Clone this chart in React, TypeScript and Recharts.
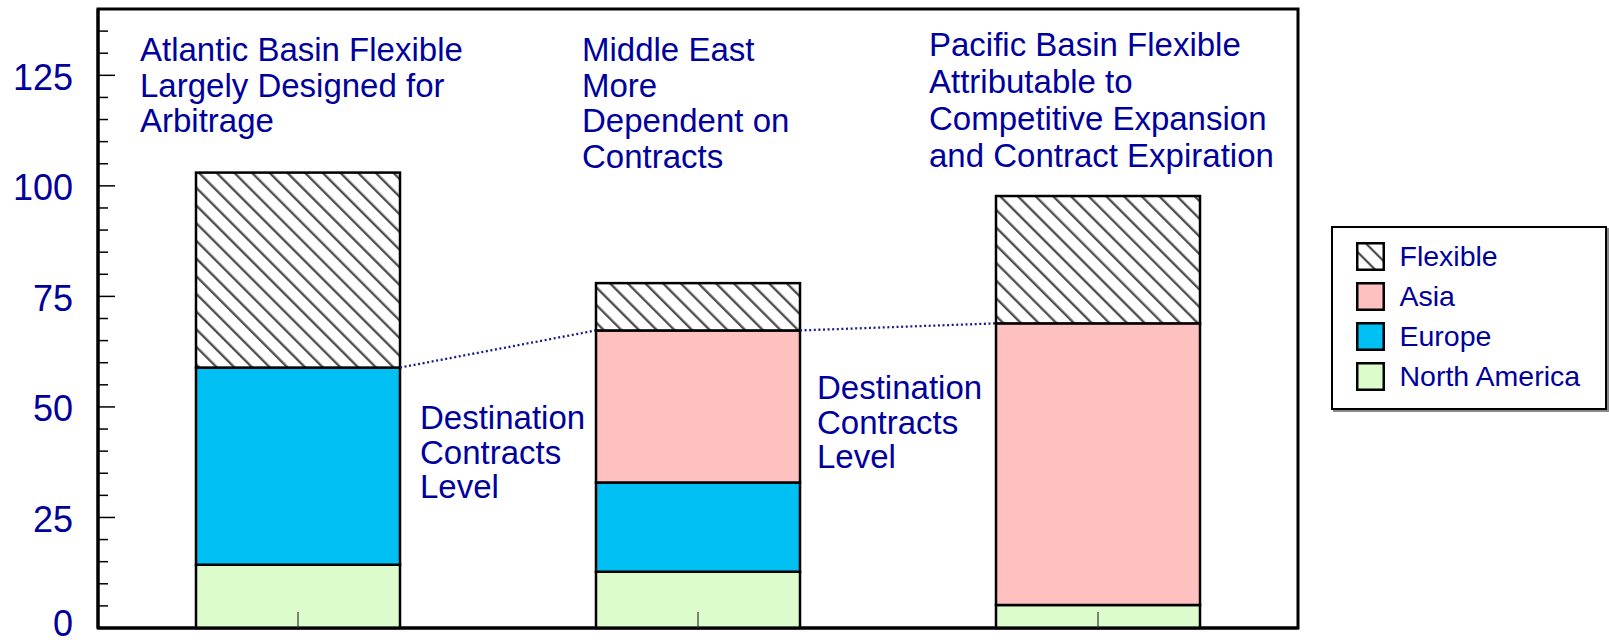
import React from 'react'
import { ComposedChart, Bar, XAxis, YAxis, Legend, ReferenceArea } from 'recharts'

// regions (one bar each)
const categories = ['Atlantic Basin', 'Middle East', 'Pacific Basin']

// stacked segments, bottom to top
const northAmerica = [14.3, 12.7, 5.2]
const europe = [44.6, 20.2, 0]
const asia = [0, 34.4, 63.7]
const flexible = [44.1, 10.7, 28.8]

const yTicks = [0, 25, 50, 75, 100, 125]
const tickMarks = [0, 5, 10, 15, 20, 25, 30, 35, 40, 45, 50, 55, 60, 65, 70, 75, 80, 85, 90, 95, 100, 105, 110, 115, 120, 125, 130, 135]
const legendOrder = ['Flexible', 'Asia', 'Europe', 'North America']

const notes = [
  { x: 140, y: 61, step: 35.5, lines: ['Atlantic Basin Flexible', 'Largely Designed for', 'Arbitrage'] },
  { x: 582, y: 61, step: 35.5, lines: ['Middle East', 'More', 'Dependent on', 'Contracts'] },
  { x: 929, y: 56, step: 37, lines: ['Pacific Basin Flexible', 'Attributable to', 'Competitive Expansion', 'and Contract Expiration'] },
  { x: 420, y: 429, step: 34.5, lines: ['Destination', 'Contracts', 'Level'] },
  { x: 817, y: 399, step: 34.5, lines: ['Destination', 'Contracts', 'Level'] },
]

const data = categories.map((name, i) => ({
  name,
  na: northAmerica[i],
  europe: europe[i],
  asia: asia[i],
  flexible: flexible[i],
}))

const FONT = '"Liberation Sans", Arial, sans-serif'
const NAVY = '#00009C'
const H = 643
const COLORS: Record<string, string> = {
  'North America': '#DDFCCC',
  Europe: '#00BFF3',
  Asia: '#FFC0C0',
  Flexible: 'url(#hatch)',
}

// bar edges, filled while the flexible bars draw, to link destination levels
const edges: { right: number; y: number }[] = []

function FlexibleShape(props: any) {
  const { x, y, width, height, index } = props
  const bottom = y + height
  edges[index] = { right: x + width, y: bottom }
  const prev = index > 0 ? edges[index - 1] : null
  return (
    <g>
      {prev && (
        <line x1={prev.right} y1={prev.y} x2={x} y2={bottom}
          stroke="#1a1a8c" strokeWidth={2.3} strokeDasharray="2 2.6" />
      )}
      <rect x={x} y={y} width={width} height={height} fill="url(#hatch)" stroke="#000" strokeWidth={2.5} />
    </g>
  )
}

// inward tick marks every 5, value labels outside at the major ones
function YTick({ x, y, payload }: any) {
  const v = payload.value
  const major = yTicks.includes(v)
  // keep the lowest label inside the picture
  const baseline = Math.min(y + 14.5, H - 7.5)
  return (
    <g>
      <line x1={x} y1={y} x2={x + (major ? 17 : 10)} y2={y} stroke="#000" strokeWidth={1.5} />
      {major && (
        <text x={x - 25} y={baseline} textAnchor="end" fontSize={36} fill={NAVY} fontFamily={FONT}>{v}</text>
      )}
    </g>
  )
}

function Swatch({ name }: { name: string }) {
  return (
    <svg width={29} height={29} style={{ display: 'block' }}>
      <defs>
        <pattern id="hatchLegend" patternUnits="userSpaceOnUse" width="12" height="12" patternTransform="rotate(-45)">
          <rect width="12" height="12" fill="#fff" />
          <line x1="6" y1="0" x2="6" y2="12" stroke="#4a4a4a" strokeWidth="2.2" />
        </pattern>
      </defs>
      <rect x={1.25} y={1.25} width={26.5} height={26.5}
        fill={name === 'Flexible' ? 'url(#hatchLegend)' : COLORS[name]} stroke="#000" strokeWidth={2.5} />
    </svg>
  )
}

function LegendBox({ payload }: any) {
  const names = (payload || []).map((p: any) => p.value)
  const items = legendOrder.filter(n => names.length === 0 || names.includes(n))
  return (
    <div style={{
      boxSizing: 'border-box', width: 276, height: 184, border: '2.5px solid #000',
      boxShadow: '2px 2px 0 #888', background: '#fff', padding: '8.5px 0 0 22.5px', fontFamily: FONT,
    }}>
      {items.map(n => (
        <div key={n} style={{ display: 'flex', alignItems: 'center', height: 40 }}>
          <Swatch name={n} />
          <span style={{ marginLeft: 15, fontSize: 28.5, color: NAVY, lineHeight: '29px' }}>{n}</span>
        </div>
      ))}
    </div>
  )
}

function Notes() {
  return (
    <g fontFamily={FONT} fontSize={33} fill={NAVY}>
      {notes.map((n, i) => (
        <text key={i} x={n.x} y={n.y}>
          {n.lines.map((l, j) => (
            <tspan key={j} x={n.x} y={n.y + j * n.step}>{l}</tspan>
          ))}
        </text>
      ))}
    </g>
  )
}

export default function App() {
  return (
    <div style={{ position: 'absolute', left: 0, top: 0, width: 1609, height: H, background: '#fff' }}>
      <ComposedChart width={1609} height={H} data={data}
        margin={{ top: 9, right: 311, bottom: 15, left: 0 }}>
        <defs>
          <pattern id="hatch" patternUnits="userSpaceOnUse" width="12.5" height="12.5" patternTransform="rotate(-45)">
            <rect width="12.5" height="12.5" fill="#fff" />
            <line x1="6" y1="0" x2="6" y2="12.5" stroke="#4a4a4a" strokeWidth="2.3" />
          </pattern>
        </defs>
        <XAxis dataKey="name" mirror interval={0} tickSize={16} tickFormatter={() => ''}
          tickLine={{ stroke: '#333', strokeWidth: 1.2 }} axisLine={{ stroke: '#000', strokeWidth: 3 }} />
        <YAxis yAxisId="v" width={98} domain={[0, 140]} ticks={tickMarks} type="number" interval={0}
          tickLine={false} tickSize={0} tickMargin={0} axisLine={{ stroke: '#000', strokeWidth: 3 }}
          tick={<YTick />} />
        <ReferenceArea yAxisId="v" y1={0} y2={140} fill="none" stroke="#000" strokeWidth={3} ifOverflow="visible" />
        <Bar yAxisId="v" dataKey="na" name="North America" stackId="a" barSize={204}
          fill={COLORS['North America']} stroke="#000" strokeWidth={2.5} isAnimationActive={false} />
        <Bar yAxisId="v" dataKey="europe" name="Europe" stackId="a" barSize={204}
          fill={COLORS.Europe} stroke="#000" strokeWidth={2.5} isAnimationActive={false} />
        <Bar yAxisId="v" dataKey="asia" name="Asia" stackId="a" barSize={204}
          fill={COLORS.Asia} stroke="#000" strokeWidth={2.5} isAnimationActive={false} />
        <Bar yAxisId="v" dataKey="flexible" name="Flexible" stackId="a" barSize={204}
          fill="url(#hatch)" shape={<FlexibleShape />} isAnimationActive={false} />
        <Notes />
        <Legend layout="vertical" align="center" verticalAlign="middle" content={<LegendBox />}
          wrapperStyle={{ left: 1331, top: 226, width: 276, height: 184 }} />
      </ComposedChart>
    </div>
  )
}
